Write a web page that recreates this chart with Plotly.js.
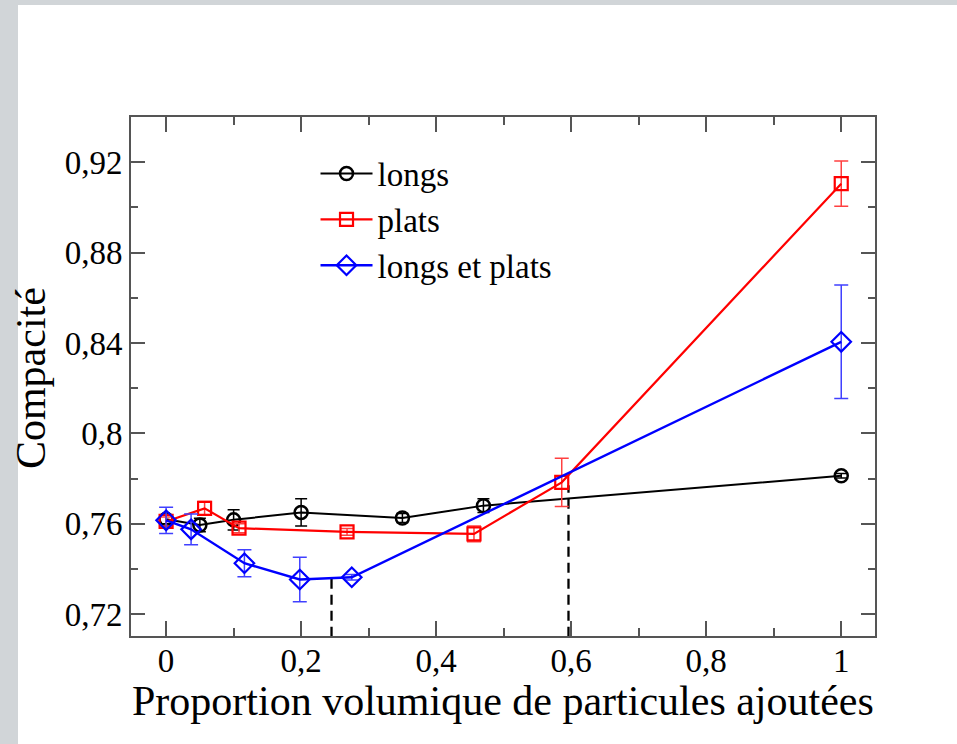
<!DOCTYPE html>
<html>
<head>
<meta charset="utf-8">
<script src="https://cdn.plot.ly/plotly-3.0.1.min.js"></script>
<style>
html,body{margin:0;padding:0;background:#d1d5d8;width:957px;height:744px;overflow:hidden;}
#panel{position:absolute;left:18px;top:5px;width:939px;height:739px;background:#fff;}
#plot{position:absolute;left:0;top:0;width:957px;height:744px;}
</style>
</head>
<body>
<div id="panel"></div>
<div id="plot"></div>
<script>
// Data
const longsX = [0, 0.05, 0.1, 0.2, 0.35, 0.47, 1];
const longsY = [0.762, 0.7594, 0.7617, 0.765, 0.7625, 0.768, 0.7812];
const longsErr = [0.002, 0.003, 0.0045, 0.006, 0.002, 0.003, 0.001];

const platsX = [0, 0.057, 0.108, 0.268, 0.456, 0.586, 1];
const platsY = [0.761, 0.7668, 0.758, 0.7564, 0.7555, 0.7783, 0.9105];
const platsErr = [0.002, 0.003, 0.002, 0.0015, 0.0035, 0.0107, 0.01];

const lpX = [0, 0.037, 0.116, 0.198, 0.275, 1];
const lpY = [0.7615, 0.7575, 0.7425, 0.7353, 0.7363, 0.8405];
const lpErr = [0.0058, 0.0068, 0.006, 0.0098, 0.0012, 0.0251];

const dash1X = [0.245, 0.245];
const dash1Y = [0.71, 0.736];
const dash2X = [0.596, 0.596];
const dash2Y = [0.71, 0.777];

const xTitle = 'Proportion volumique de particules ajoutées';
const yTitle = 'Compacité';

const serif = '"Liberation Serif", "DejaVu Serif", serif';

const traces = [
  {x: dash1X, y: dash1Y, mode: 'lines', line: {color: '#000', width: 2.3, dash: '10px,6px'}, showlegend: false, hoverinfo: 'skip'},
  {x: dash2X, y: dash2Y, mode: 'lines', line: {color: '#000', width: 2.3, dash: '10px,6px'}, showlegend: false, hoverinfo: 'skip'},
  {x: longsX, y: longsY, name: 'longs', mode: 'lines+markers',
   line: {color: '#000', width: 2},
   marker: {symbol: 'circle-open', size: 13, color: '#000', line: {width: 2.5}},
   error_y: {type: 'data', array: longsErr, visible: true, color: '#000', thickness: 1.5, width: 6}},
  {x: platsX, y: platsY, name: 'plats', mode: 'lines+markers',
   line: {color: '#ff0000', width: 2.2},
   marker: {symbol: 'square-open', size: 13, color: '#ff0000', line: {width: 2.2}},
   error_y: {type: 'data', array: platsErr, visible: true, color: '#ff4040', thickness: 1.5, width: 7}},
  {x: lpX, y: lpY, name: 'longs et plats', mode: 'lines+markers',
   line: {color: '#0000ff', width: 2.4},
   marker: {symbol: 'diamond-open', size: 15, color: '#0000ff', line: {width: 2.2}},
   error_y: {type: 'data', array: lpErr, visible: true, color: '#4040ff', thickness: 1.5, width: 7}}
];

const axisCommon = {
  showline: true, linecolor: '#555', linewidth: 2, mirror: 'allticks',
  ticks: 'inside', tickcolor: '#555', tickwidth: 2,
  showgrid: false, zeroline: false,
  tickfont: {family: serif, size: 33, color: '#000'}
};

const layout = {
  width: 957, height: 744,
  paper_bgcolor: 'rgba(0,0,0,0)', plot_bgcolor: '#fff',
  separators: ', ',
  margin: {l: 131, r: 82, t: 117, b: 108},
  font: {family: serif, color: '#000'},
  showlegend: true,
  legend: {x: 0.248, y: 0.945, xanchor: 'left', yanchor: 'top', bgcolor: 'rgba(0,0,0,0)',
           font: {family: serif, size: 33, color: '#000'}, itemwidth: 52, tracegroupgap: 0},
  xaxis: Object.assign({}, axisCommon, {
    range: [-0.052, 1.05], tick0: 0, dtick: 0.2, ticklen: 15, ticklabelstandoff: -6,
    minor: {dtick: 0.1, ticks: 'inside', ticklen: 8, tickcolor: '#555', tickwidth: 2}
  }),
  yaxis: Object.assign({}, axisCommon, {
    range: [0.7103, 0.94], tick0: 0.72, dtick: 0.04, ticklen: 14,
    minor: {dtick: 0.02, ticks: 'inside', ticklen: 7, tickcolor: '#555', tickwidth: 2}
  }),
  annotations: [
    {text: xTitle, xref: 'paper', yref: 'paper', x: 0.5, y: -0.126, xanchor: 'center', yanchor: 'middle',
     showarrow: false, font: {family: serif, size: 42, color: '#000'}},
    {text: yTitle, xref: 'paper', yref: 'paper', x: -0.1344, y: 0.497, xanchor: 'center', yanchor: 'middle',
     textangle: -90, showarrow: false, font: {family: serif, size: 42, color: '#000'}}
  ]
};

Plotly.newPlot('plot', traces, layout, {displayModeBar: false, staticPlot: true});
</script>
</body>
</html>
